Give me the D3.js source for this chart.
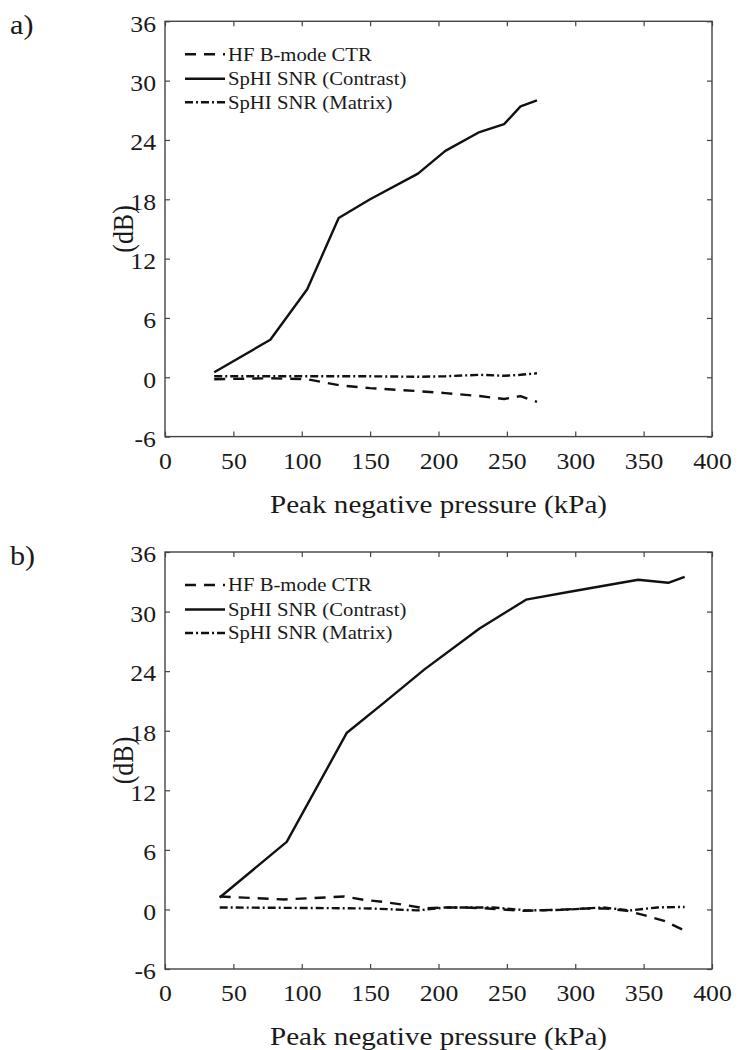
<!DOCTYPE html>
<html>
<head>
<meta charset="utf-8">
<script src="https://cdn.jsdelivr.net/npm/d3@7/dist/d3.min.js"></script>
<style>
  html, body { margin: 0; padding: 0; background: #fff; }
  svg { display: block; }
  text { font-family: "Liberation Serif", "Times New Roman", serif; fill: #1a1a1a; }
</style>
</head>
<body>
<svg id="chart" width="742" height="1050"></svg>
<script>
// ---------- data ----------
const xTicks = [0, 50, 100, 150, 200, 250, 300, 350, 400];
const yTicks = [-6, 0, 6, 12, 18, 24, 30, 36];
const seriesNames = ["HF B-mode CTR", "SpHI SNR (Contrast)", "SpHI SNR (Matrix)"];
const xTitle = "Peak negative pressure (kPa)";
const yTitle = "(dB)";
const panelLabels = ["a)", "b)"];

// panel a
const aPressure = [36, 77, 104, 127, 150, 185, 205, 230, 248, 260, 272];
const aContrast = [0.5, 3.8, 8.9, 16.1, 18.0, 20.6, 22.9, 24.8, 25.6, 27.4, 28.0];
const aCTR      = [-0.2, -0.1, -0.2, -0.8, -1.1, -1.4, -1.6, -1.9, -2.2, -1.9, -2.5];
const aMatrix   = [0.1, 0.1, 0.1, 0.1, 0.1, 0.05, 0.1, 0.25, 0.15, 0.25, 0.4];

// panel b
const bContrastPressure = [40, 89, 133, 160, 190, 230, 264, 296, 346, 368, 380];
const bContrast         = [1.2, 6.8, 17.8, 20.8, 24.2, 28.3, 31.2, 32.0, 33.2, 32.9, 33.5];
const bCTRPressure = [40, 87, 131, 146, 160, 175, 190, 204, 220, 236, 262, 293, 309, 322, 338, 351, 365, 381];
const bCTR         = [1.3, 1.0, 1.3, 0.95, 0.75, 0.46, 0.1, 0.2, 0.2, 0.1, -0.15, 0.0, 0.1, 0.1, -0.15, -0.6, -1.15, -2.2];
const bMatrixPressure = [40, 100, 150, 185, 205, 240, 265, 290, 320, 340, 360, 380];
const bMatrix         = [0.2, 0.15, 0.1, -0.1, 0.2, 0.2, -0.1, -0.05, 0.2, -0.1, 0.2, 0.25];

// ---------- layout / style ----------
const svg = d3.select("#chart");
const SX = 1.12; // horizontal stretch of the original's text
const left = 165, right = 712;
const panels = [
  { label: panelLabels[0], top: 21.3, bottom: 436.6,
    series: [
      { name: seriesNames[0], x: aPressure, y: aCTR, dash: "11,8" },
      { name: seriesNames[1], x: aPressure, y: aContrast, dash: null },
      { name: seriesNames[2], x: aPressure, y: aMatrix, dash: "8,3,2,3" }
    ] },
  { label: panelLabels[1], top: 552, bottom: 969,
    series: [
      { name: seriesNames[0], x: bCTRPressure, y: bCTR, dash: "11,8" },
      { name: seriesNames[1], x: bContrastPressure, y: bContrast, dash: null },
      { name: seriesNames[2], x: bMatrixPressure, y: bMatrix, dash: "8,3,2,3" }
    ] }
];

const fmt = d => String(d); // plain hyphen-minus like the original
const stretchText = (sel, x, y) =>
  sel.attr("transform", `translate(${x},${y}) scale(${SX},1)`);

panels.forEach(p => {
  const x = d3.scaleLinear().domain([0, 400]).range([left, right]);
  const y = d3.scaleLinear().domain([-6, 36]).range([p.bottom, p.top]);
  const g = svg.append("g");

  // axes
  const axB = g.append("g").attr("transform", `translate(0,${p.bottom})`)
    .call(d3.axisBottom(x).tickValues(xTicks).tickFormat(fmt).tickSizeInner(-5).tickSizeOuter(0).tickPadding(0));
  axB.selectAll(".tick text")
    .attr("y", 0).attr("dy", null)
    .attr("transform", `translate(0,32) scale(${SX},1)`)
    .style("font-size", "23px");
  const axT = g.append("g").attr("transform", `translate(0,${p.top})`)
    .call(d3.axisTop(x).tickValues(xTicks).tickSizeInner(-5).tickSizeOuter(0).tickFormat(""));
  const axL = g.append("g").attr("transform", `translate(${left},0)`)
    .call(d3.axisLeft(y).tickValues(yTicks).tickFormat(fmt).tickSizeInner(-5).tickSizeOuter(0).tickPadding(0));
  axL.selectAll(".tick text")
    .attr("x", 0).attr("dy", "0.36em")
    .attr("transform", `translate(-9,1.5) scale(${SX},1)`)
    .style("font-size", "23px");
  const axR = g.append("g").attr("transform", `translate(${right},0)`)
    .call(d3.axisRight(y).tickValues(yTicks).tickSizeInner(-5).tickSizeOuter(0).tickFormat(""));
  [axB, axT, axL, axR].forEach(a => {
    a.select(".domain").remove();
    a.selectAll(".tick line").attr("stroke", "#444").attr("stroke-width", 1.2);
  });
  g.append("rect")
    .attr("x", left).attr("y", p.top)
    .attr("width", right - left).attr("height", p.bottom - p.top)
    .attr("fill", "none").attr("stroke", "#444").attr("stroke-width", 1.4);

  // titles
  stretchText(g.append("text").text(xTitle)
    .attr("text-anchor", "middle").style("font-size", "26px"),
    (left + right) / 2, p.bottom + 76);
  g.append("text").text(yTitle)
    .attr("text-anchor", "middle").style("font-size", "26px")
    .attr("transform", `translate(133,${(p.top + p.bottom) / 2}) rotate(-90) scale(1,${SX})`);
  stretchText(g.append("text").text(p.label).style("font-size", "27px"),
    10, p.top + 13);

  // lines
  const line = d3.line().x(d => x(d[0])).y(d => y(d[1]));
  p.series.forEach(s => {
    g.append("path")
      .datum(s.x.map((v, i) => [v, s.y[i]]))
      .attr("d", line)
      .attr("fill", "none")
      .attr("stroke", "#111")
      .attr("stroke-width", 2.4)
      .attr("stroke-linejoin", "round")
      .attr("stroke-dasharray", s.dash);
  });

  // legend
  const legRows = [33, 57.5, 81];
  p.series.forEach((s, i) => {
    const ly = p.top + legRows[i];
    g.append("line")
      .attr("x1", 185).attr("x2", 225).attr("y1", ly).attr("y2", ly)
      .attr("stroke", "#111").attr("stroke-width", 2.4)
      .attr("stroke-dasharray", s.dash);
    stretchText(g.append("text").text(s.name)
      .attr("dy", "0.35em").style("font-size", "18.5px"),
      228, ly);
  });
});
</script>
</body>
</html>
